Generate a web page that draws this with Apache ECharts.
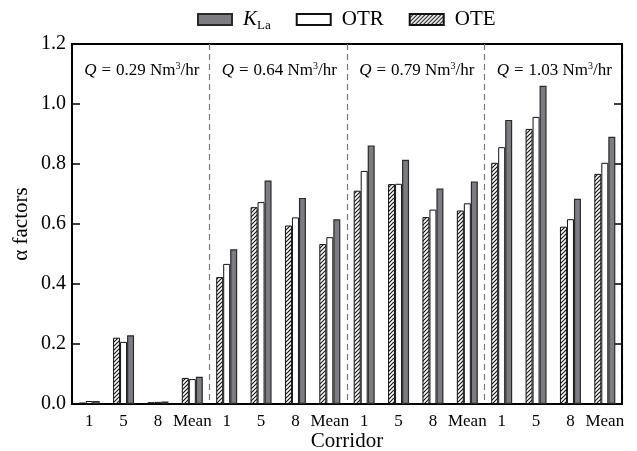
<!DOCTYPE html>
<html>
<head>
<meta charset="utf-8">
<script src="https://cdn.jsdelivr.net/npm/echarts@6/dist/echarts.min.js"></script>
<style>
html,body{margin:0;padding:0;background:#fff;}
#main{width:637px;height:451px;}
</style>
</head>
<body>
<div id="main"></div>
<script>
// ---- data ----
var categories = ['1','5','8','Mean','1','5','8','Mean','1','5','8','Mean','1','5','8','Mean'];
var flowRates = ['0.29','0.64','0.79','1.03'];
var oteValues = [0.005,0.221,0.006,0.087, 0.423,0.656,0.595,0.533, 0.711,0.733,0.623,0.645, 0.804,0.917,0.591,0.767];
var otrValues = [0.010,0.207,0.007,0.083, 0.467,0.673,0.622,0.556, 0.777,0.734,0.648,0.669, 0.856,0.957,0.616,0.804];
var klaValues = [0.010,0.229,0.008,0.091, 0.516,0.745,0.687,0.616, 0.862,0.814,0.718,0.742, 0.947,1.061,0.684,0.891];
var yTicks = [0, 0.2, 0.4, 0.6, 0.8, 1.0, 1.2];

var FONT = '"Liberation Serif", "DejaVu Serif", serif';

// hatch pattern
function makeHatch() {
  var c = document.createElement('canvas');
  c.width = 4; c.height = 4;
  var g = c.getContext('2d');
  g.fillStyle = '#fff';
  g.fillRect(0, 0, 4, 4);
  g.strokeStyle = '#111';
  g.lineWidth = 1.1;
  g.beginPath();
  g.moveTo(0, 4); g.lineTo(4, 0);
  g.moveTo(-1, 1); g.lineTo(1, -1);
  g.moveTo(3, 5); g.lineTo(5, 3);
  g.stroke();
  return c;
}
var hatch = makeHatch();

var chart = echarts.init(document.getElementById('main'), null, {renderer: 'canvas'});

var option = {
  backgroundColor: '#fff',
  animation: false,
  textStyle: {fontFamily: FONT, color: '#000'},
  grid: {left: 72, right: 15, top: 44, bottom: 47, show: true, borderColor: '#000', borderWidth: 2,
         containLabel: false, outerBoundsMode: 'none'},
  legend: {
    data: ['KLa', 'OTR', 'OTE'],
    left: 197,
    top: 9,
    padding: 0,
    icon: 'rect',
    itemWidth: 34,
    itemHeight: 11,
    itemGap: 25,
    textStyle: {
      fontFamily: FONT, fontSize: 21, color: '#000', padding: [0, 0, 0, 6],
      rich: {
        k: {fontFamily: FONT, fontSize: 21, fontStyle: 'italic', color: '#000'},
        s: {fontFamily: FONT, fontSize: 13, color: '#000', verticalAlign: 'bottom', padding: [12, 0, 0, 0]}
      }
    },
    formatter: function (name) {
      if (name === 'KLa') return '{k|K}{s|La}';
      return name;
    }
  },
  xAxis: [{
    type: 'category',
    data: categories,
    position: 'bottom',
    name: 'Corridor',
    nameLocation: 'middle',
    nameGap: 27,
    nameMoveOverlap: false,
    nameTextStyle: {fontFamily: FONT, fontSize: 21, color: '#000'},
    axisLine: {show: true, lineStyle: {color: '#000', width: 2}},
    axisTick: {show: false},
    axisLabel: {fontFamily: FONT, fontSize: 17, color: '#000', margin: 9, interval: 0},
    splitLine: {
      show: true,
      interval: function (index) { return index === 4 || index === 8 || index === 12; },
      lineStyle: {color: '#777', type: [6, 4], width: 1.2}
    }
  }],
  yAxis: [{
    type: 'value',
    min: 0, max: 1.2, interval: 0.2,
    name: 'α factors',
    nameLocation: 'middle',
    nameGap: 40,
    nameMoveOverlap: false,
    nameTextStyle: {fontFamily: FONT, fontSize: 21, color: '#000'},
    axisLine: {show: true, lineStyle: {color: '#000', width: 2}},
    axisTick: {show: true, inside: true, length: 8, lineStyle: {color: '#000', width: 1.5}},
    axisLabel: {fontFamily: FONT, fontSize: 20, color: '#000', margin: 6,
      formatter: function (v) { return v.toFixed(1); }},
    splitLine: {show: false}
  }, {
    type: 'value',
    position: 'right',
    min: 0, max: 1.2, interval: 0.2,
    axisLine: {show: true, lineStyle: {color: '#000', width: 2}},
    axisTick: {show: true, inside: true, length: 8, lineStyle: {color: '#000', width: 1.5}},
    axisLabel: {show: false},
    splitLine: {show: false}
  }],
  series: [{
    name: 'OTE', type: 'bar', data: oteValues, barWidth: 7, barGap: '0%',
    itemStyle: {color: {image: hatch, repeat: 'repeat'}, borderColor: '#111', borderWidth: 1}
  }, {
    name: 'OTR', type: 'bar', data: otrValues, barWidth: 7, barGap: '0%',
    itemStyle: {color: '#fff', borderColor: '#111', borderWidth: 1}
  }, {
    name: 'KLa', type: 'bar', data: klaValues, barWidth: 7, barGap: '0%',
    itemStyle: {color: '#7c7c81', borderColor: '#2a2a2a', borderWidth: 1.2}
  }]
};
chart.setOption(option);

// group annotations positioned through the axes
var texts = [];
for (var g = 0; g < flowRates.length; g++) {
  var x0 = chart.convertToPixel({xAxisIndex: 0}, 4 * g);
  var x3 = chart.convertToPixel({xAxisIndex: 0}, 4 * g + 3);
  var y = chart.convertToPixel({yAxisIndex: 0}, 1.113);
  texts.push({
    type: 'text',
    x: (x0 + x3) / 2 + 1,
    y: y,
    style: {
      text: '{i|Q}{eq|=}' + flowRates[g] + ' Nm{sup|3}/hr',
      align: 'center',
      verticalAlign: 'middle',
      font: '17px ' + FONT,
      fill: '#000',
      rich: {
        i: {fontFamily: FONT, fontSize: 17, fontStyle: 'italic', fill: '#000'},
        eq: {fontFamily: FONT, fontSize: 17, fill: '#000', padding: [0, 5, 0, 5]},
        sup: {fontFamily: FONT, fontSize: 10, fill: '#000', verticalAlign: 'top', padding: [0, 0, 7, 0]}
      }
    },
    z: 10
  });
}
chart.setOption({graphic: texts});
</script>
</body>
</html>
